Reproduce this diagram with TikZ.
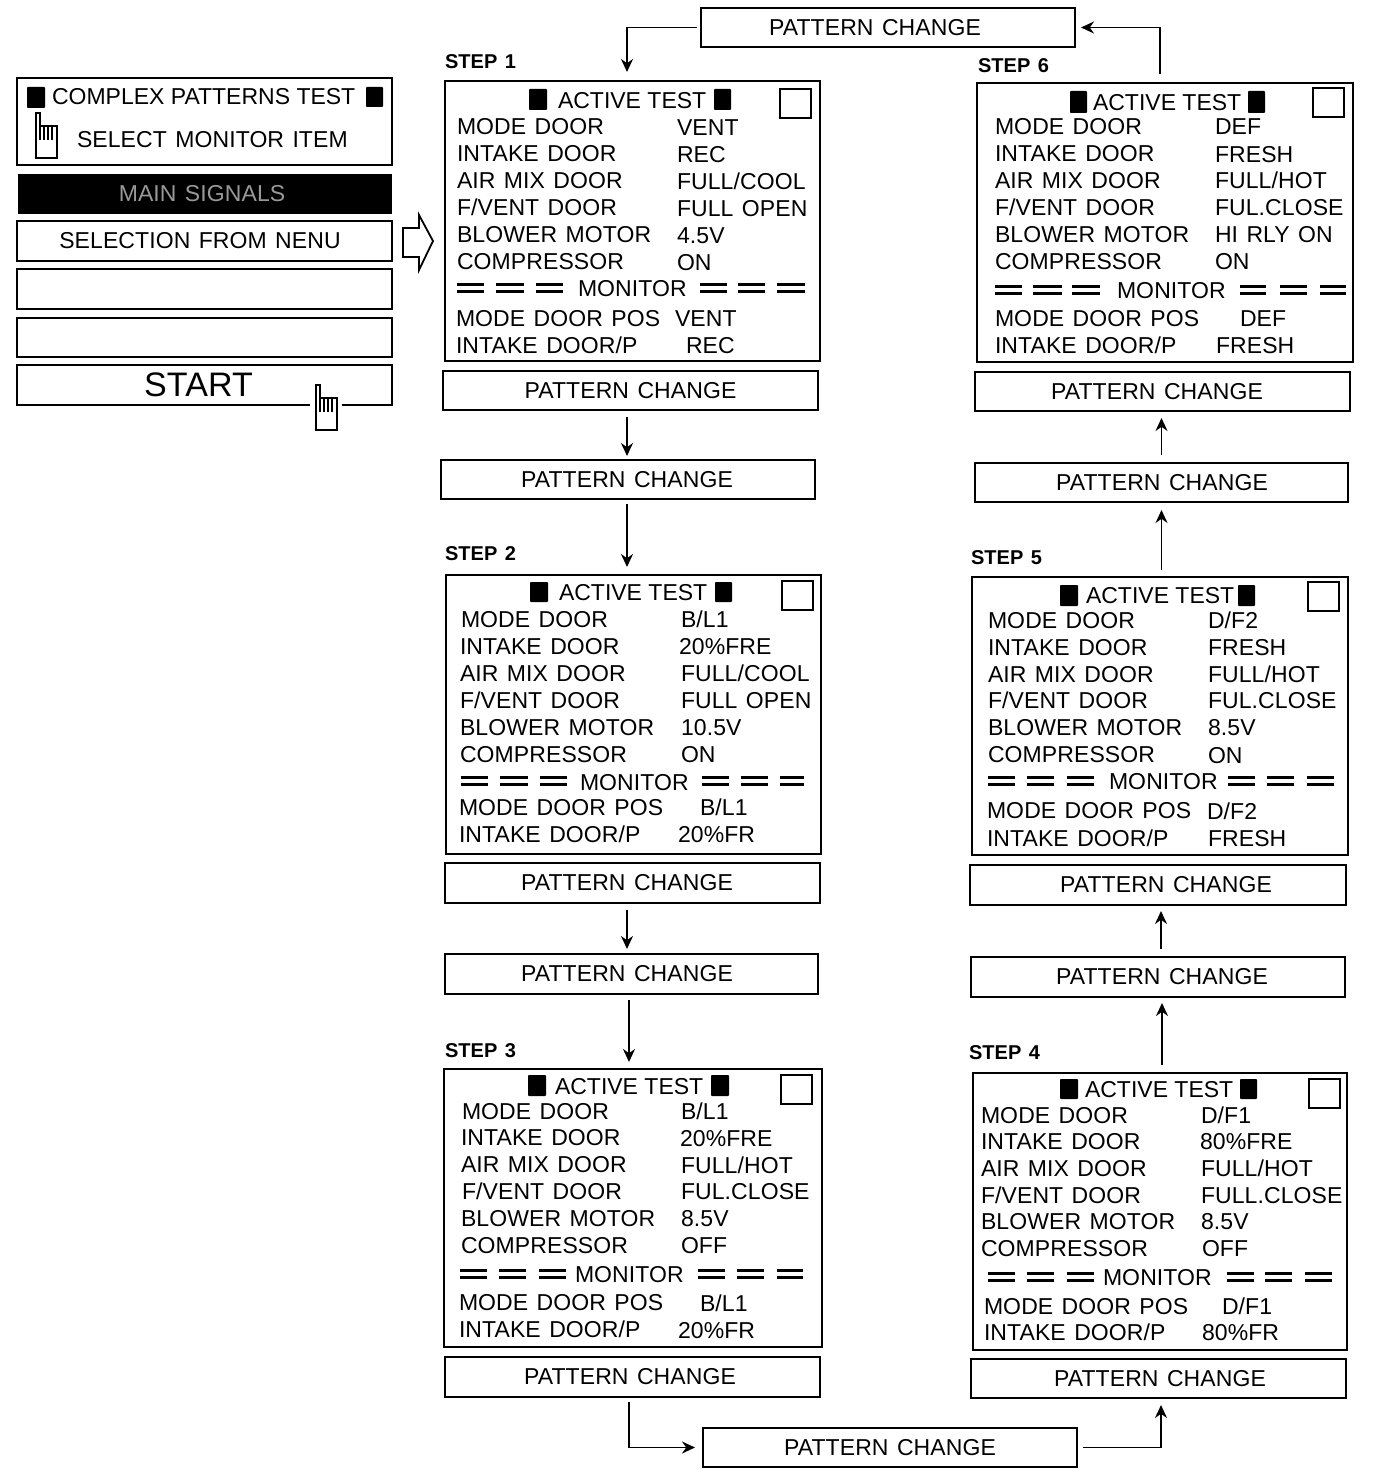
\documentclass[tikz,border=0pt]{standalone}
\usepackage{fontspec}
\setmainfont[LetterSpace=0.4,WordSpace=1.3]{Liberation Sans}
\newfontfamily\atf{Liberation Sans}
\usetikzlibrary{arrows.meta}
\tikzset{
  lbl/.style={inner sep=0pt,outer sep=0pt,anchor=base west,font=\fontsize{23}{25}\selectfont},
  steplbl/.style={inner sep=0pt,outer sep=0pt,anchor=west,font=\fontsize{20}{22}\selectfont\bfseries},
  frame/.style={draw=black,line width=1.7pt,fill=white,inner sep=0pt,outer sep=0pt,font=\fontsize{23}{25}\selectfont},
  blk/.style={fill=black,draw=none,rounded corners=0.8pt},
  chk/.style={draw=black,line width=1.8pt,fill=white},
  dbl/.style={draw=black,line width=2.8pt},
  conn/.style={draw=black,line width=1.8pt,-{Stealth[length=13pt,width=12pt]}},
  handline/.style={draw=black,line width=1.4pt,fill=white},
}
\newcommand{\SL}{/}
% \bx{name}{x1}{y1}{x2}{y2}{kern}{text}
\newcommand{\bx}[7]{\node[frame,minimum width={#4-#2},minimum height={#5-#3}] (#1) at ({(#2+#4)/2},{(#3+#5)/2}) {\kern#6pt #7};}
\newcommand{\hnd}[2]{\begin{scope}[shift={(#1,#2)}]
  \draw[handline] (1,0) -- (1,45) -- (22,45) -- (22,13) -- (5,13) -- (5,0) -- cycle;
  \draw[black,line width=1.6pt] (5,13) -- (5,27) (9,14) -- (9,27) (13,14) -- (13,27) (17,14) -- (17,27);
\end{scope}}
\newcommand{\dbls}[2]{\foreach \p/\q in {#2}{\draw[dbl] (\p,#1-3.5) -- (\q,#1-3.5) (\p,#1+3.5) -- (\q,#1+3.5);}}
\newcommand{\sq}[4]{\fill[blk] (#1,#2) rectangle (#3,#4);}
\begin{document}
\begin{tikzpicture}[x=1pt,y=-1pt]
\useasboundingbox (0,0) rectangle (1392,1482);

% ---------- left menu ----------
\bx{m1}{17}{78}{392}{165}{0}{}
\node[frame,fill=black,draw=black,minimum width=373pt,minimum height=39pt,text=white!60!black] (m2) at (205,194) {\kern-6pt MAIN SIGNALS};
\bx{m3}{17}{221}{392}{261}{-9}{SELECTION FROM NENU}
\bx{m4}{17}{269}{392}{309}{0}{}
\bx{m5}{17}{318}{392}{357}{0}{}
\node[frame,minimum width=375pt,minimum height=40pt,font=\fontsize{34}{37}\selectfont] (m6) at (204.5,385) {\kern-12pt START};
\sq{27}{87}{45}{108}
\sq{366}{87}{383}{107}
\node[lbl] (mt1) at (52,105) {\atf COMPLEX PATTERNS TEST};
\node[lbl] (mt2) at (77,148) {SELECT MONITOR ITEM};
\hnd{35}{113}
\fill[white] (310,400) rectangle (342,410);
\hnd{315}{385}
\draw[black,line width=1.8pt,fill=white,line join=miter] (403,228) -- (419,228) -- (419,215) -- (433,241) -- (419,270) -- (419,257) -- (403,257) -- cycle;

% ---------- screens ----------
\bx{s1}{445}{81}{820}{361}{0}{}
\bx{s2}{446}{575}{821}{854}{0}{}
\bx{s3}{444}{1069}{822}{1347}{0}{}
\bx{s4}{973}{1073}{1347}{1350}{0}{}
\bx{s5}{972}{577}{1348}{855}{0}{}
\bx{s6}{977}{83}{1353}{362}{0}{}

% step labels
\foreach \n/\xx/\yy in {1/445/62,2/445/554,3/445/1051,4/969/1053,5/971/558,6/978/66}
  \node[steplbl] (st\n) at (\xx,\yy) {STEP \n};

% headers: black squares and check boxes
\foreach \a/\b/\c/\d/\ya/\yb/\ca/\cb in {
  529/547/714/731/89/110/780/89,
  530/548/715/732/582/602/782/581,
  528/546/711/729/1075/1096/781/1075,
  1060/1078/1240/1257/1079/1099/1309/1079,
  1060/1078/1238/1255/585/606/1308/582,
  1070/1087/1248/1265/91/113/1313/88}{
  \fill[blk] (\a,\ya) rectangle (\b,\yb);
  \fill[blk] (\c,\ya) rectangle (\d,\yb);
  \draw[chk] (\ca,\cb) rectangle (\ca+31,\cb+29);
}

% monitor separators
\dbls{288}{457/484,496/524,536/563,700/727,738/765,777/805}
\dbls{781}{461/488,500/528,540/567,702/729,741/768,780/804}
\dbls{1274}{460/487,499/526,539/566,698/725,737/764,777/803}
\dbls{1277}{988/1015,1027/1054,1067/1094,1227/1254,1265/1292,1305/1332}
\dbls{781}{988/1015,1027/1054,1067/1094,1228/1255,1267/1294,1307/1334}
\dbls{290}{995/1022,1033/1062,1072/1100,1240/1266,1280/1307,1320/1346}

% screen texts: name/x/y(centre)/text
\foreach \nm/\xx/\yy/\tx in {
  a1/457/126/MODE DOOR,a1v/677/127/VENT,
  a2/457/153/INTAKE DOOR,a2v/677/154/REC,
  a3/457/180/AIR MIX DOOR,a3v/677/181/FULL\SL COOL,
  a4/457/207/F\SL VENT DOOR,a4v/677/208/FULL OPEN,
  a5/457/234/BLOWER MOTOR,a5v/677/235/4.5V,
  a6/457/261/COMPRESSOR,a6v/677/262/ON,
  a7/578/288/MONITOR,
  a8/456/318/MODE DOOR POS,a8v/675/318/VENT,
  a9/456/345/INTAKE DOOR\SL P,a9v/686/345/REC,
  b1/461/619/MODE DOOR,b1v/681/619/B\SL L1,
  b2/460/646/INTAKE DOOR,b2v/679/646/20\%FRE,
  b3/460/673/AIR MIX DOOR,b3v/681/673/FULL\SL COOL,
  b4/460/700/F\SL VENT DOOR,b4v/681/700/FULL OPEN,
  b5/460/727/BLOWER MOTOR,b5v/681/727/10.5V,
  b6/460/754/COMPRESSOR,b6v/681/754/ON,
  b7/580/782/MONITOR,
  b8/459/807/MODE DOOR POS,b8v/700/807/B\SL L1,
  b9/459/834/INTAKE DOOR\SL P,b9v/678/834/20\%FR,
  c1/462/1111/MODE DOOR,c1v/681/1111/B\SL L1,
  c2/461/1137/INTAKE DOOR,c2v/680/1138/20\%FRE,
  c3/461/1164/AIR MIX DOOR,c3v/681/1165/FULL\SL HOT,
  c4/462/1191/F\SL VENT DOOR,c4v/681/1191/FUL.CLOSE,
  c5/461/1218/BLOWER MOTOR,c5v/681/1218/8.5V,
  c6/461/1245/COMPRESSOR,c6v/681/1245/OFF,
  c7/575/1274/MONITOR,
  c8/459/1302/MODE DOOR POS,c8v/700/1303/B\SL L1,
  c9/459/1329/INTAKE DOOR\SL P,c9v/678/1330/20\%FR,
  d1/981/1115/MODE DOOR,d1v/1201/1115/D\SL F1,
  d2/981/1141/INTAKE DOOR,d2v/1200/1141/80\%FRE,
  d3/981/1168/AIR MIX DOOR,d3v/1201/1168/FULL\SL HOT,
  d4/981/1195/F\SL VENT DOOR,d4v/1201/1195/FULL.CLOSE,
  d5/981/1221/BLOWER MOTOR,d5v/1201/1221/8.5V,
  d6/981/1248/COMPRESSOR,d6v/1202/1248/OFF,
  d7/1103/1277/MONITOR,
  d8/984/1306/MODE DOOR POS,d8v/1222/1306/D\SL F1,
  d9/984/1332/INTAKE DOOR\SL P,d9v/1202/1332/80\%FR,
  e1/988/620/MODE DOOR,e1v/1208/620/D\SL F2,
  e2/988/647/INTAKE DOOR,e2v/1208/647/FRESH,
  e3/988/674/AIR MIX DOOR,e3v/1208/674/FULL\SL HOT,
  e4/988/700/F\SL VENT DOOR,e4v/1208/700/FUL.CLOSE,
  e5/988/727/BLOWER MOTOR,e5v/1208/727/8.5V,
  e6/988/754/COMPRESSOR,e6v/1208/755/ON,
  e7/1109/781/MONITOR,
  e8/987/810/MODE DOOR POS,e8v/1207/811/D\SL F2,
  e9/987/838/INTAKE DOOR\SL P,e9v/1208/838/FRESH,
  f1/995/126/MODE DOOR,f1v/1215/126/DEF,
  f2/995/153/INTAKE DOOR,f2v/1215/154/FRESH,
  f3/995/180/AIR MIX DOOR,f3v/1215/180/FULL\SL HOT,
  f4/995/207/F\SL VENT DOOR,f4v/1215/207/FUL.CLOSE,
  f5/995/234/BLOWER MOTOR,f5v/1215/234/HI RLY ON,
  f6/995/261/COMPRESSOR,f6v/1215/261/ON,
  f7/1117/290/MONITOR,
  f8/995/318/MODE DOOR POS,f8v/1240/318/DEF,
  f9/995/345/INTAKE DOOR\SL P,f9v/1216/345/FRESH}
  \node[lbl] (\nm) at ({\xx},{\yy+8.5}) {\tx};

% screen titles
\foreach \nm/\xx/\yy in {a0/558/100,b0/559/592,c0/555/1086,d0/1085/1089,e0/1086/595,f0/1093/102}
  \node[lbl] (\nm) at ({\xx},{\yy+8.5}) {\atf ACTIVE TEST};

% ---------- pattern change buttons ----------
\bx{p1}{443}{371}{818}{410}{0}{PATTERN CHANGE}
\bx{p1b}{441}{460}{815}{499}{-2}{PATTERN CHANGE}
\bx{p2}{445}{863}{820}{903}{-11}{PATTERN CHANGE}
\bx{p2b}{445}{954}{818}{994}{-9}{PATTERN CHANGE}
\bx{p3}{445}{1357}{820}{1397}{-5}{PATTERN CHANGE}
\bx{pbot}{703}{1428}{1077}{1467}{0}{PATTERN CHANGE}
\bx{p4}{971}{1359}{1346}{1398}{3}{PATTERN CHANGE}
\bx{p4b}{971}{957}{1345}{997}{8}{PATTERN CHANGE}
\bx{p5}{970}{865}{1346}{905}{16}{PATTERN CHANGE}
\bx{p5b}{975}{463}{1348}{502}{1}{PATTERN CHANGE}
\bx{p6}{975}{372}{1350}{411}{-11}{PATTERN CHANGE}
\bx{ptop}{701}{8}{1075}{47}{-26}{PATTERN CHANGE}

% ---------- connectors ----------
\draw[conn,shorten <=4pt,shorten >=9pt] (ptop.west) -| ([xshift=-5.5pt]s1.north);
\draw[conn,shorten <=7pt,shorten >=4pt] ([xshift=-1pt]p1b.north |- p1.south) -- ([xshift=-1pt]p1b.north);
\draw[conn,shorten <=5pt,shorten >=8pt] ([xshift=-1pt]p1b.south) -- ([xshift=-1pt]p1b.south |- s2.north);
\draw[conn,shorten <=7pt,shorten >=5pt] ([xshift=-4.5pt]p2b.north |- p2.south) -- ([xshift=-4.5pt]p2b.north);
\draw[conn,shorten <=6pt,shorten >=7pt] ([xshift=-2.5pt]p2b.south) -- ([xshift=-2.5pt]p2b.south |- s3.north);
\draw[conn,shorten <=5pt,shorten >=8pt] ([xshift=-3.5pt]p3.south) |- (pbot.west);
\draw[conn,shorten <=6pt,shorten >=7pt] (pbot.east) -| ([xshift=2.5pt]p4.south);
\draw[conn,shorten <=8pt,shorten >=6pt] ([xshift=4pt]p4b.south |- s4.north) -- ([xshift=4pt]p4b.south);
\draw[conn,shorten <=8pt,shorten >=6pt] ([xshift=3pt]p4b.north) -- ([xshift=3pt]p4b.north |- p5.south);
\draw[conn,shorten <=7pt,shorten >=8pt] (p5b.south |- s5.north) -- (p5b.south);
\draw[conn,shorten <=8pt,shorten >=7pt] (p5b.north) -- (p5b.north |- p6.south);
\draw[conn,shorten <=9pt,shorten >=6pt] ([xshift=-5pt]s6.north) |- (ptop.east);
\end{tikzpicture}
\end{document}
